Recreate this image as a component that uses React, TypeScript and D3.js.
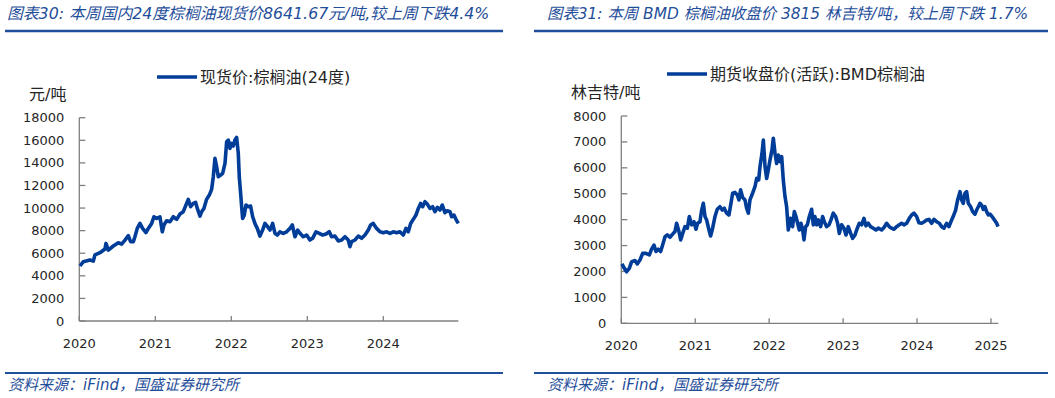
import React from "react";
import * as d3 from "d3";

// ---------- data (decimal year, value) ----------
const spotT = [2020.009,2020.053,2020.140,2020.184,2020.206,2020.272,2020.338,2020.351,2020.382,2020.447,2020.513,2020.557,2020.601,2020.645,2020.675,2020.711,2020.732,2020.763,2020.798,2020.833,2020.877,2020.908,2020.952,2020.982,
2021.018,2021.061,2021.092,2021.114,2021.149,2021.193,2021.237,2021.281,2021.325,2021.368,2021.412,2021.434,2021.465,2021.500,2021.531,2021.553,2021.588,2021.610,2021.640,2021.675,2021.711,2021.741,2021.763,2021.785,2021.807,2021.829,2021.860,2021.886,2021.917,2021.939,2021.961,2021.982,
2022.004,2022.026,2022.048,2022.070,2022.092,2022.105,2022.123,2022.136,2022.149,2022.171,2022.193,2022.224,2022.254,2022.281,2022.311,2022.342,2022.377,2022.412,2022.443,2022.478,2022.509,2022.544,2022.575,2022.605,2022.640,2022.684,2022.728,2022.772,2022.803,2022.838,2022.873,2022.904,2022.947,2022.991,
2023.035,2023.070,2023.114,2023.158,2023.202,2023.246,2023.289,2023.320,2023.364,2023.408,2023.452,2023.496,2023.539,2023.561,2023.583,2023.627,2023.671,2023.715,2023.759,2023.803,2023.833,2023.868,2023.912,2023.956,
2024.000,2024.044,2024.088,2024.132,2024.175,2024.219,2024.263,2024.298,2024.329,2024.360,2024.395,2024.430,2024.461,2024.491,2024.518,2024.548,2024.579,2024.614,2024.649,2024.680,2024.711,2024.746,2024.776,2024.811,2024.842,2024.877,2024.899,2024.930,2024.956,2024.987];
const spotV = [4870,5250,5400,5300,5850,6050,6370,6870,6280,6640,6930,6810,7170,7550,7020,7020,7460,8200,8640,8200,7820,8200,8640,9230,
9090,9230,7900,8500,8880,8790,9230,9000,9470,9680,10410,10770,10120,10410,10500,9970,9290,9680,9970,10770,11150,11650,12770,14400,13660,12770,12920,13070,13950,15870,16020,15280,
15720,15490,16020,16250,14840,12770,11300,10120,9090,9380,10270,10120,10180,9230,8640,8200,7520,8050,8640,8350,8050,8640,7760,7610,7900,7760,7900,8200,8500,7460,8050,7760,7460,7610,
7170,7320,7900,7760,7610,7700,7900,7460,7520,7080,7170,7460,7170,6580,7020,7170,7520,7320,7610,8050,8500,8640,8200,7900,
7820,7900,7760,7900,7820,7900,7610,8200,7900,8640,9000,9380,9970,10410,10120,10560,10350,9970,10120,9680,10060,9820,10270,9590,9760,9680,9230,9380,9000,8640];

const bmdT = [2020.009,2020.041,2020.072,2020.108,2020.140,2020.185,2020.216,2020.252,2020.289,2020.334,2020.379,2020.410,2020.442,2020.469,2020.500,2020.532,2020.559,2020.591,2020.622,2020.658,2020.694,2020.726,2020.748,2020.780,2020.803,2020.830,2020.861,2020.893,2020.920,2020.951,2020.983,
2021.010,2021.032,2021.064,2021.087,2021.109,2021.132,2021.154,2021.186,2021.208,2021.235,2021.267,2021.298,2021.334,2021.366,2021.393,2021.425,2021.456,2021.483,2021.506,2021.537,2021.569,2021.591,2021.614,2021.641,2021.673,2021.695,2021.718,2021.740,2021.776,2021.808,2021.831,2021.858,2021.876,2021.903,2021.921,2021.944,2021.966,2021.988,
2022.011,2022.038,2022.056,2022.079,2022.101,2022.124,2022.146,2022.169,2022.191,2022.214,2022.236,2022.259,2022.290,2022.317,2022.340,2022.362,2022.385,2022.408,2022.430,2022.453,2022.471,2022.493,2022.516,2022.543,2022.574,2022.597,2022.619,2022.642,2022.665,2022.696,2022.723,2022.746,2022.777,2022.809,2022.836,2022.867,2022.899,2022.926,2022.949,2022.980,
2023.012,2023.039,2023.070,2023.102,2023.129,2023.161,2023.192,2023.219,2023.251,2023.282,2023.309,2023.341,2023.372,2023.408,2023.445,2023.476,2023.521,2023.553,2023.589,2023.625,2023.656,2023.688,2023.724,2023.760,2023.792,2023.823,2023.859,2023.895,2023.927,2023.958,2023.995,
2024.026,2024.062,2024.098,2024.130,2024.161,2024.197,2024.229,2024.265,2024.301,2024.333,2024.364,2024.400,2024.432,2024.468,2024.490,2024.522,2024.549,2024.581,2024.603,2024.626,2024.648,2024.671,2024.693,2024.725,2024.752,2024.784,2024.806,2024.829,2024.851,2024.874,2024.896,2024.919,2024.941,2024.964,2024.987,
2025.009,2025.032,2025.054,2025.077,2025.095];
const bmdV = [2290,2120,1990,2120,2380,2420,2290,2440,2700,2700,2640,2860,3020,2770,2860,2770,3020,3340,3410,3320,3440,3540,3860,3540,3220,3470,3730,3670,4120,3800,3920,
3630,3860,3920,4370,4630,4120,3990,3600,3370,3670,4120,4400,4500,4370,4440,4250,4180,4630,5020,5050,4950,4760,5150,4860,4760,4440,4250,4760,5020,5270,5590,5530,6050,6560,7070,6050,5590,5920,
6300,6690,7140,6560,6170,6490,6240,6430,5530,4890,4500,3600,4050,3730,4310,4120,3860,3600,3860,3600,3220,3730,3800,4120,4400,3800,4120,3800,3990,3730,4120,3920,3730,3800,3990,4250,4120,3860,3470,3800,
3670,3410,3730,3470,3280,3410,3670,3860,3800,4050,3760,3860,3730,3670,3600,3670,3600,3700,3860,3730,3670,3630,3730,3800,3860,3800,3860,4050,4180,4250,4120,
3880,3860,3920,3990,4010,3860,4010,3920,3860,3730,3670,3860,3730,3990,4130,4370,4760,5080,4760,4630,5020,5080,4630,4500,4310,4210,4370,4500,4630,4560,4400,4500,4310,4180,4210,
4140,4050,3960,3860,3730];

const spotYTicks = [0,2000,4000,6000,8000,10000,12000,14000,16000,18000];
const bmdYTicks = [0,1000,2000,3000,4000,5000,6000,7000,8000];
const spotXTicks = [2020,2021,2022,2023,2024];
const bmdXTicks = [2020,2021,2022,2023,2024,2025];

const BLUE = "#003D99";
const TITLE_BLUE = "#1F4E9A";
const LATIN = "'DejaVu Sans', 'Noto Sans CJK SC', sans-serif";

type PanelProps = {
  x0: number; x1: number; xDomain: [number, number];
  y0: number; y1: number; yMax: number;
  t: number[]; v: number[]; yTicks: number[]; xTicks: number[];
  legend: string; legX: number; legY: number;
  unit: string; unitX: number; unitY: number;
  title: string; titleX: number; titleSize: number; ruleX0: number; ruleX1: number; srcX: number;
};

function Panel(p: PanelProps) {
  const x = d3.scaleLinear().domain(p.xDomain).range([p.x0, p.x1]);
  const y = d3.scaleLinear().domain([0, p.yMax]).range([p.y0, p.y1]);
  const pts = p.t.map((tt, i) => [tt, p.v[i]] as [number, number]);
  const line = d3.line<[number, number]>().x(d => x(d[0])).y(d => y(d[1]));
  return (
    <g>
      <text x={p.titleX} y={19} fontSize={p.titleSize} fontStyle="italic" fill={TITLE_BLUE}
        fontFamily={LATIN}>{p.title}</text>
      <line x1={p.ruleX0} x2={p.ruleX1} y1={31} y2={31} stroke={TITLE_BLUE} strokeWidth={2.5} />
      <line x1={p.ruleX0} x2={p.ruleX1} y1={373} y2={373} stroke={TITLE_BLUE} strokeWidth={2} />
      <text x={p.srcX} y={390} fontSize={15} fontStyle="italic" fill={TITLE_BLUE}
        fontFamily={LATIN}>资料来源：iFind，国盛证券研究所</text>

      {/* legend */}
      <line x1={p.legX} x2={p.legX + 40} y1={p.legY} y2={p.legY} stroke={BLUE} strokeWidth={3.5} />
      <text x={p.legX + 43} y={p.legY} dy="0.35em" fontSize={16} fill="#262626" fontFamily={LATIN}>{p.legend}</text>
      <text x={p.unitX} y={p.unitY} dy="0.35em" fontSize={16} fill="#262626" fontFamily={LATIN}>{p.unit}</text>

      {/* axes */}
      <line x1={p.x0} x2={p.x0} y1={p.y1} y2={p.y0} stroke="#7f7f7f" strokeWidth={1.3} />
      <line x1={p.x0} x2={p.x1} y1={p.y0} y2={p.y0} stroke="#7f7f7f" strokeWidth={1.3} />
      {p.yTicks.map(tk => (
        <g key={"y" + tk}>
          <line x1={p.x0} x2={p.x0 + 6} y1={y(tk)} y2={y(tk)} stroke="#7f7f7f" strokeWidth={1.3} />
          <text x={p.x0 - 15} y={y(tk)} dy="0.35em" textAnchor="end" fontSize={13} fill="#262626"
            fontFamily={LATIN}>{tk}</text>
        </g>
      ))}
      {p.xTicks.map(tk => (
        <g key={"x" + tk}>
          <line x1={x(tk)} x2={x(tk)} y1={p.y0} y2={p.y0 - 5} stroke="#7f7f7f" strokeWidth={1.3} />
          <text x={x(tk)} y={p.y0 + 22} dy="0.35em" textAnchor="middle" fontSize={13} fill="#262626"
            fontFamily={LATIN}>{tk}</text>
        </g>
      ))}
      <path d={line(pts) || ""} fill="none" stroke={BLUE} strokeWidth={3.6} strokeLinejoin="round" />
    </g>
  );
}

export default function App() {
  return (
    <svg width={1055} height={398} style={{ position: "absolute", left: 0, top: 0, background: "#fff" }}>
      <rect width={1055} height={398} fill="#fff" />
      <Panel x0={79.3} x1={458.3} xDomain={[2020, 2024.987]} y0={321} y1={117.7} yMax={18000}
        t={spotT} v={spotV} yTicks={spotYTicks} xTicks={spotXTicks}
        legend="现货价:棕榈油(24度)" legX={157} legY={77}
        unit="元/吨" unitX={29} unitY={94}
        title="图表30:  本周国内24度棕榈油现货价8641.67元/吨,较上周下跌4.4%" titleX={7} titleSize={15.8}
        ruleX0={5} ruleX1={503} srcX={8} />
      <Panel x0={621.3} x1={998.3} xDomain={[2020, 2025.099]} y0={323.3} y1={116} yMax={8000}
        t={bmdT} v={bmdV} yTicks={bmdYTicks} xTicks={bmdXTicks}
        legend="期货收盘价(活跃):BMD棕榈油" legX={667} legY={74}
        unit="林吉特/吨" unitX={571} unitY={92}
        title="图表31: 本周 BMD 棕榈油收盘价 3815 林吉特/吨，较上周下跌 1.7%" titleX={547} titleSize={15.4}
        ruleX0={534} ruleX1={1048} srcX={547} />
    </svg>
  );
}
